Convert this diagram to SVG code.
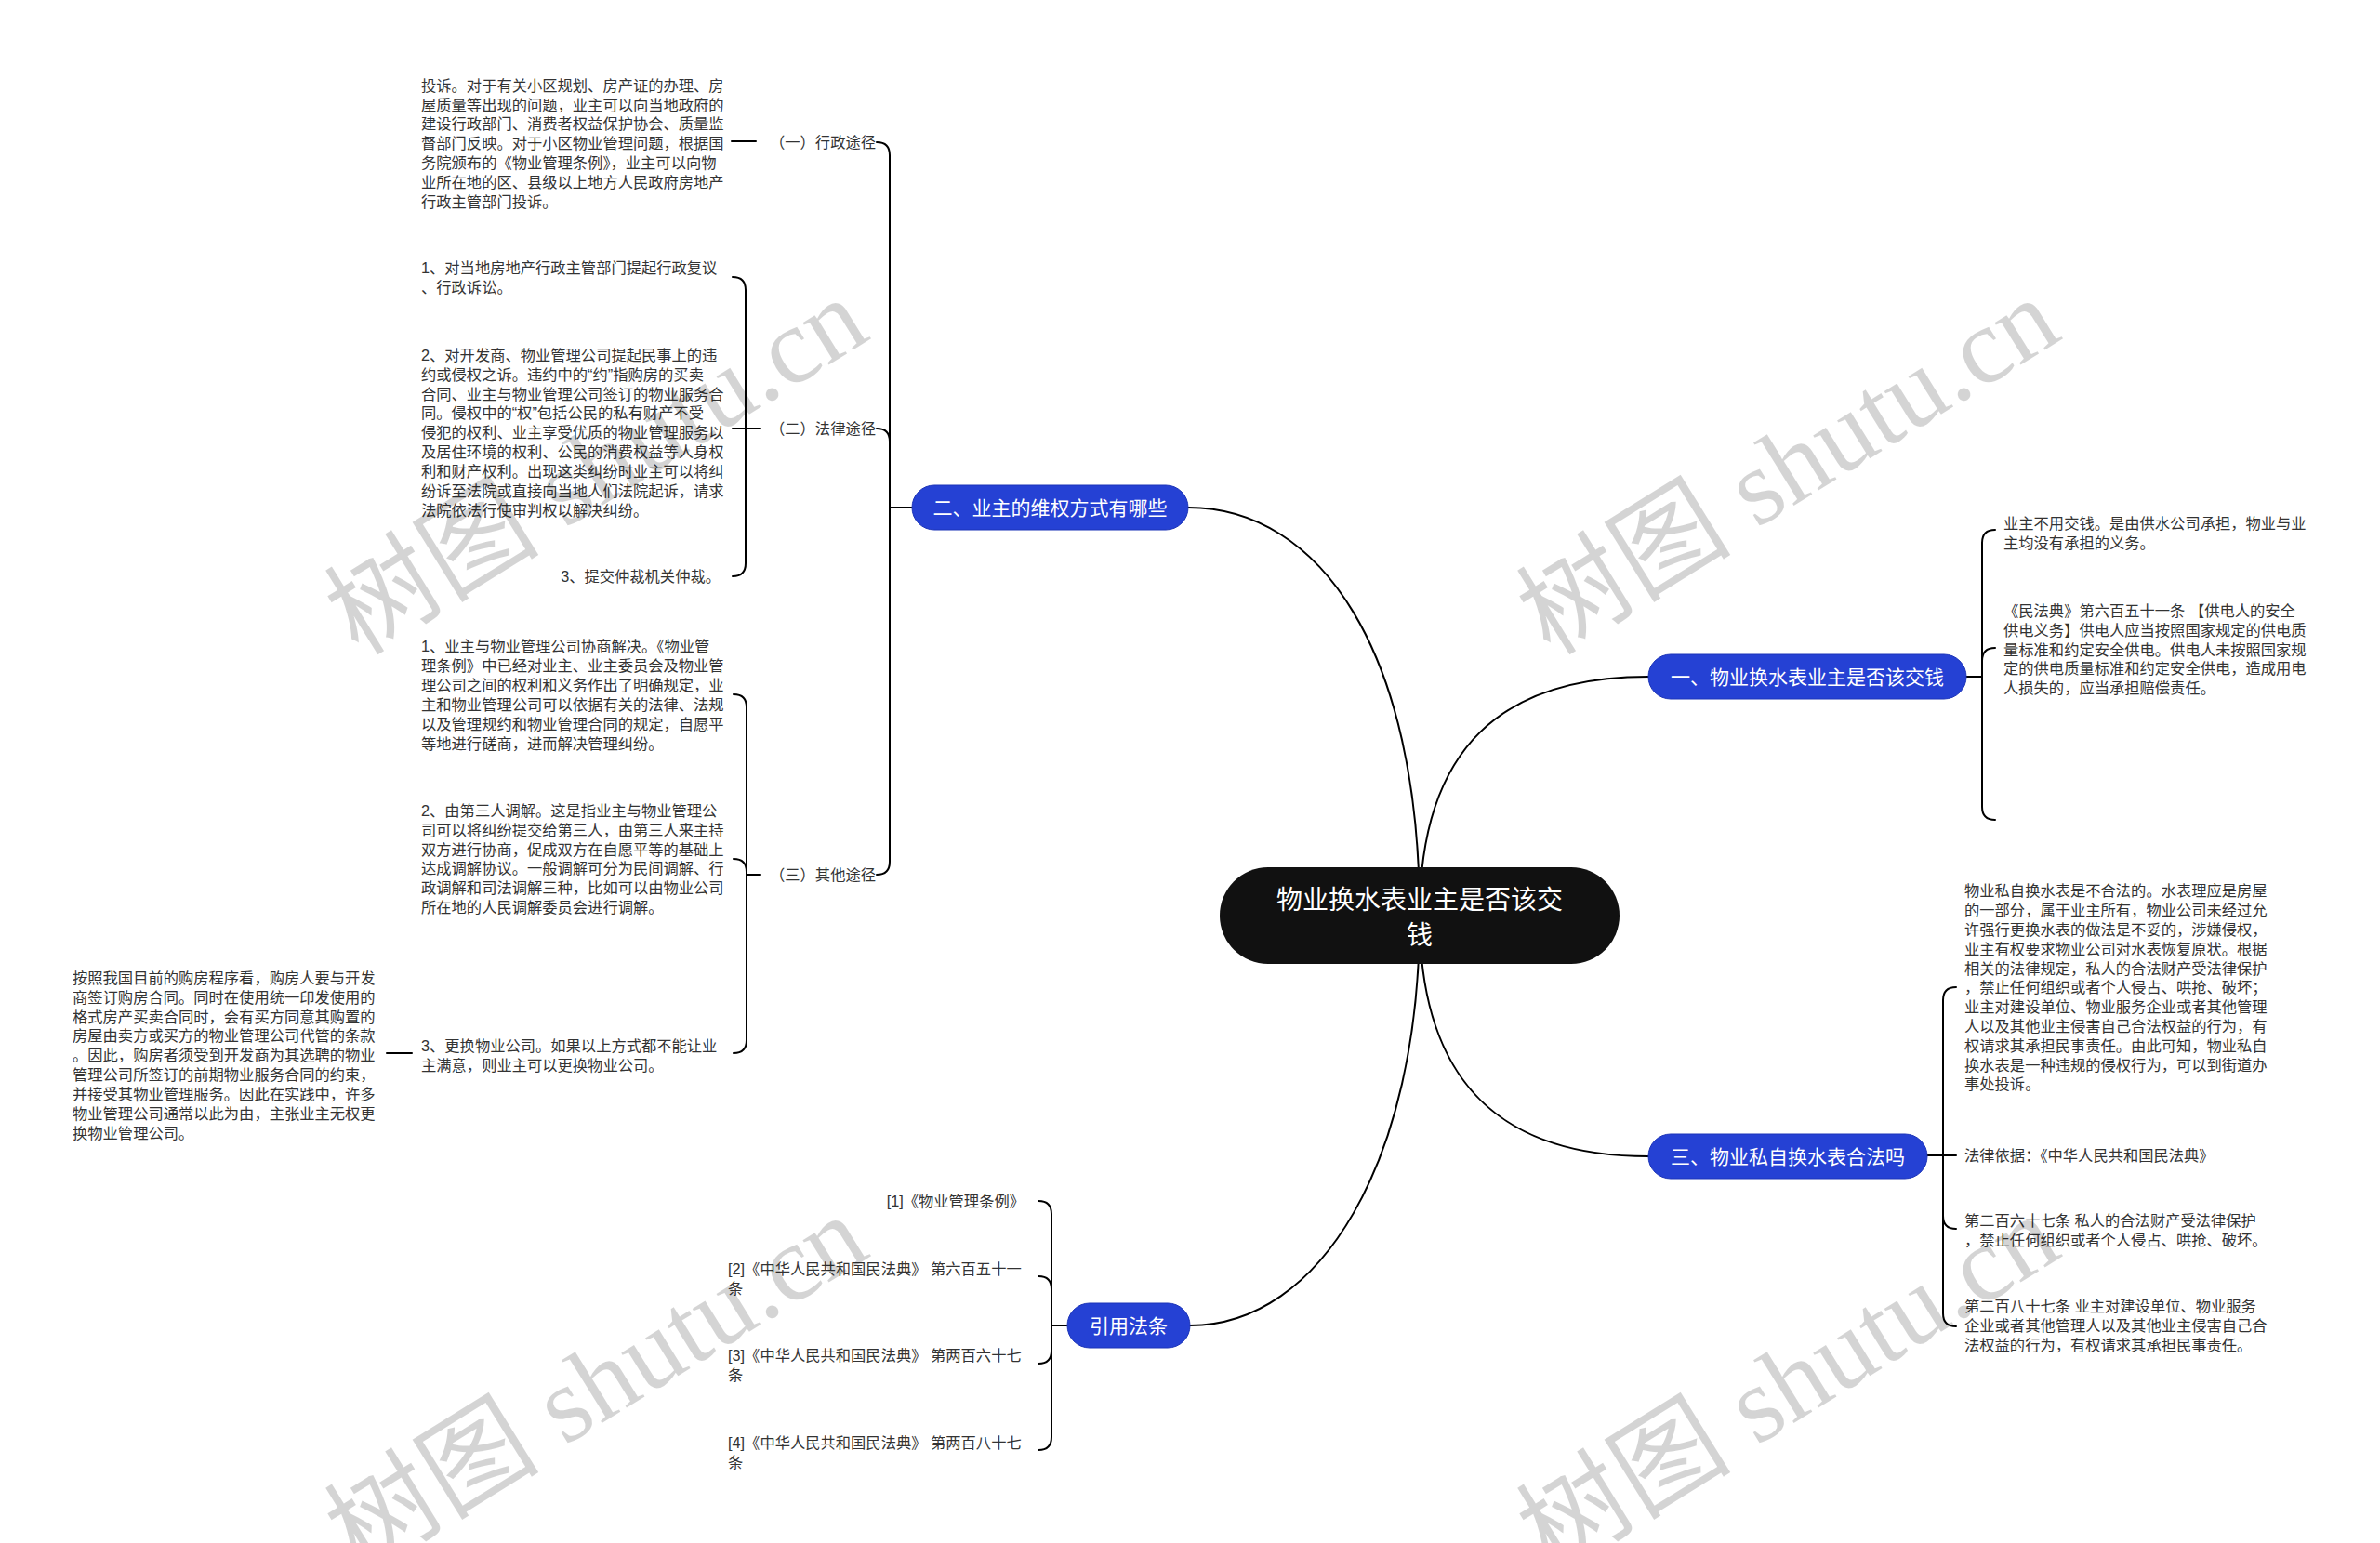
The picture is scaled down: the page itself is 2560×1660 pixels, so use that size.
<svg xmlns="http://www.w3.org/2000/svg" width="2560" height="1660" viewBox="0 0 2560 1660">
<style>
.bg{fill:#ffffff}
.ln{fill:none;stroke:#000;stroke-width:2;stroke-linecap:round}
.t{font-family:"Liberation Sans","Noto Sans CJK SC",sans-serif;font-size:16.3px;fill:#333}
.e{text-anchor:end}
.bn{fill:#2541d4;stroke:#1c34b8;stroke-width:1}
.bt{font-family:"Liberation Sans","Noto Sans CJK SC",sans-serif;font-size:21px;fill:#fff;text-anchor:middle}
.ct{font-family:"Liberation Sans","Noto Sans CJK SC",sans-serif;font-size:28px;fill:#fff;text-anchor:middle}
.wm{font-family:"Liberation Serif","Noto Sans CJK SC",serif;font-size:116px;fill:#000;fill-opacity:0.17;text-anchor:middle}
</style>
<rect class="bg" x="0" y="0" width="2560" height="1660"/>
<g id="connectors">
<path class="ln" d="M1527,985 C1527,700 1420,546 1278,546"/>
<path class="ln" d="M1527,985 C1527,800 1620,728 1773,728"/>
<path class="ln" d="M1527,985 C1527,1170 1620,1244 1773,1244"/>
<path class="ln" d="M1527,985 C1527,1250 1420,1426 1280,1426"/>
<path class="ln" d="M981,546 L957,546"/>
<path class="ln" d="M957,546 L957,167 Q957,153 943,153"/>
<path class="ln" d="M957,546 L957,475 Q957,461 943,461"/>
<path class="ln" d="M957,546 L957,927 Q957,941 943,941"/>
<path class="ln" d="M787,152 L813,152"/>
<path class="ln" d="M802,461 L802,312 Q802,298 788,298"/>
<path class="ln" d="M818,461 L788,461"/>
<path class="ln" d="M802,461 L802,606 Q802,620 788,620"/>
<path class="ln" d="M818,941 L803,941"/>
<path class="ln" d="M803,941 L803,761 Q803,747 789,747"/>
<path class="ln" d="M803,941 L803,938 Q803,924 789,924"/>
<path class="ln" d="M803,941 L803,1119 Q803,1133 789,1133"/>
<path class="ln" d="M443,1133 L416,1133"/>
<path class="ln" d="M1148,1426 L1131,1426"/>
<path class="ln" d="M1131,1426 L1131,1306 Q1131,1292 1117,1292"/>
<path class="ln" d="M1131,1426 L1131,1387 Q1131,1373 1117,1373"/>
<path class="ln" d="M1131,1426 L1131,1453 Q1131,1467 1117,1467"/>
<path class="ln" d="M1131,1426 L1131,1546 Q1131,1560 1117,1560"/>
<path class="ln" d="M2115,728 L2132,728"/>
<path class="ln" d="M2132,728 L2132,584 Q2132,570 2146,570"/>
<path class="ln" d="M2132,728 L2132,711 Q2132,697 2146,697"/>
<path class="ln" d="M2132,728 L2132,868 Q2132,882 2146,882"/>
<path class="ln" d="M2073,1243 L2104,1243"/>
<path class="ln" d="M2090,1243 L2090,1076 Q2090,1062 2104,1062"/>
<path class="ln" d="M2090,1243 L2090,1308 Q2090,1322 2104,1322"/>
<path class="ln" d="M2090,1243 L2090,1413 Q2090,1427 2104,1427"/>
</g>
<g id="center">
<rect x="1312" y="933" width="430" height="104" rx="52" fill="#111"/>
<text class="ct" x="1527" y="978">物业换水表业主是否该交</text>
<text class="ct" x="1527" y="1016">钱</text>
</g>
<g id="node-er">
<rect class="bn" x="981" y="522" width="297" height="48" rx="24"/>
<text class="bt" x="1129.5" y="553.5">二、业主的维权方式有哪些</text>
</g>
<g id="node-yi">
<rect class="bn" x="1773" y="704" width="342" height="48" rx="24"/>
<text class="bt" x="1944" y="735.5">一、物业换水表业主是否该交钱</text>
</g>
<g id="node-san">
<rect class="bn" x="1773" y="1220" width="300" height="48" rx="24"/>
<text class="bt" x="1923" y="1251.5">三、物业私自换水表合法吗</text>
</g>
<g id="node-yinyong">
<rect class="bn" x="1148" y="1402" width="132" height="48" rx="24"/>
<text class="bt" x="1214" y="1433.5">引用法条</text>
</g>
<g id="label-xingzheng">
<text class="t e" x="942" y="159">（一）行政途径</text>
</g>
<g id="text-xingzheng">
<text class="t" x="453" y="97.7">投诉。对于有关小区规划、房产证的办理、房<tspan x="453" dy="20.8">屋质量等出现的问题，业主可以向当地政府的</tspan><tspan x="453" dy="20.8">建设行政部门、消费者权益保护协会、质量监</tspan><tspan x="453" dy="20.8">督部门反映。对于小区物业管理问题，根据国</tspan><tspan x="453" dy="20.8">务院颁布的《物业管理条例》，业主可以向物</tspan><tspan x="453" dy="20.8">业所在地的区、县级以上地方人民政府房地产</tspan><tspan x="453" dy="20.8">行政主管部门投诉。</tspan></text>
</g>
<g id="label-falv">
<text class="t e" x="942" y="467">（二）法律途径</text>
</g>
<g id="text-falv-1">
<text class="t" x="453" y="294">1、对当地房地产行政主管部门提起行政复议<tspan x="453" dy="20.9">、行政诉讼。</tspan></text>
</g>
<g id="text-falv-2">
<text class="t" x="453" y="387.7">2、对开发商、物业管理公司提起民事上的违<tspan x="453" dy="20.9">约或侵权之诉。违约中的“约”指购房的买卖</tspan><tspan x="453" dy="20.9">合同、业主与物业管理公司签订的物业服务合</tspan><tspan x="453" dy="20.9">同。侵权中的“权”包括公民的私有财产不受</tspan><tspan x="453" dy="20.9">侵犯的权利、业主享受优质的物业管理服务以</tspan><tspan x="453" dy="20.9">及居住环境的权利、公民的消费权益等人身权</tspan><tspan x="453" dy="20.9">利和财产权利。出现这类纠纷时业主可以将纠</tspan><tspan x="453" dy="20.9">纷诉至法院或直接向当地人们法院起诉，请求</tspan><tspan x="453" dy="20.9">法院依法行使审判权以解决纠纷。</tspan></text>
</g>
<g id="text-falv-3">
<text class="t e" x="775" y="626">3、提交仲裁机关仲裁。</text>
</g>
<g id="label-qita">
<text class="t e" x="942" y="947">（三）其他途径</text>
</g>
<g id="text-qita-1">
<text class="t" x="453" y="701">1、业主与物业管理公司协商解决。《物业管<tspan x="453" dy="20.9">理条例》中已经对业主、业主委员会及物业管</tspan><tspan x="453" dy="20.9">理公司之间的权利和义务作出了明确规定，业</tspan><tspan x="453" dy="20.9">主和物业管理公司可以依据有关的法律、法规</tspan><tspan x="453" dy="20.9">以及管理规约和物业管理合同的规定，自愿平</tspan><tspan x="453" dy="20.9">等地进行磋商，进而解决管理纠纷。</tspan></text>
</g>
<g id="text-qita-2">
<text class="t" x="453" y="877.7">2、由第三人调解。这是指业主与物业管理公<tspan x="453" dy="20.9">司可以将纠纷提交给第三人，由第三人来主持</tspan><tspan x="453" dy="20.9">双方进行协商，促成双方在自愿平等的基础上</tspan><tspan x="453" dy="20.9">达成调解协议。一般调解可分为民间调解、行</tspan><tspan x="453" dy="20.9">政调解和司法调解三种，比如可以由物业公司</tspan><tspan x="453" dy="20.9">所在地的人民调解委员会进行调解。</tspan></text>
</g>
<g id="text-qita-3">
<text class="t" x="453" y="1131">3、更换物业公司。如果以上方式都不能让业<tspan x="453" dy="20.9">主满意，则业主可以更换物业公司。</tspan></text>
</g>
<g id="text-goufang">
<text class="t" x="78" y="1057.7">按照我国目前的购房程序看，购房人要与开发<tspan x="78" dy="20.9">商签订购房合同。同时在使用统一印发使用的</tspan><tspan x="78" dy="20.9">格式房产买卖合同时，会有买方同意其购置的</tspan><tspan x="78" dy="20.9">房屋由卖方或买方的物业管理公司代管的条款</tspan><tspan x="78" dy="20.9">。因此，购房者须受到开发商为其选聘的物业</tspan><tspan x="78" dy="20.9">管理公司所签订的前期物业服务合同的约束，</tspan><tspan x="78" dy="20.9">并接受其物业管理服务。因此在实践中，许多</tspan><tspan x="78" dy="20.9">物业管理公司通常以此为由，主张业主无权更</tspan><tspan x="78" dy="20.9">换物业管理公司。</tspan></text>
</g>
<g id="ref-1">
<text class="t e" x="1102" y="1298">[1]《物业管理条例》</text>
</g>
<g id="ref-2">
<text class="t" x="783" y="1371">[2]《中华人民共和国民法典》 第六百五十一<tspan x="783" dy="20.9">条</tspan></text>
</g>
<g id="ref-3">
<text class="t" x="783" y="1464">[3]《中华人民共和国民法典》 第两百六十七<tspan x="783" dy="20.9">条</tspan></text>
</g>
<g id="ref-4">
<text class="t" x="783" y="1558">[4]《中华人民共和国民法典》 第两百八十七<tspan x="783" dy="20.9">条</tspan></text>
</g>
<g id="text-yi-1">
<text class="t" x="2155" y="569">业主不用交钱。是由供水公司承担，物业与业<tspan x="2155" dy="20.9">主均没有承担的义务。</tspan></text>
</g>
<g id="text-yi-2">
<text class="t" x="2155" y="662.7">《民法典》第六百五十一条 【供电人的安全<tspan x="2155" dy="20.9">供电义务】供电人应当按照国家规定的供电质</tspan><tspan x="2155" dy="20.9">量标准和约定安全供电。供电人未按照国家规</tspan><tspan x="2155" dy="20.9">定的供电质量标准和约定安全供电，造成用电</tspan><tspan x="2155" dy="20.9">人损失的，应当承担赔偿责任。</tspan></text>
</g>
<g id="text-san-1">
<text class="t" x="2113" y="964.3">物业私自换水表是不合法的。水表理应是房屋<tspan x="2113" dy="20.8">的一部分，属于业主所有，物业公司未经过允</tspan><tspan x="2113" dy="20.8">许强行更换水表的做法是不妥的，涉嫌侵权，</tspan><tspan x="2113" dy="20.8">业主有权要求物业公司对水表恢复原状。根据</tspan><tspan x="2113" dy="20.8">相关的法律规定，私人的合法财产受法律保护</tspan><tspan x="2113" dy="20.8">，禁止任何组织或者个人侵占、哄抢、破坏；</tspan><tspan x="2113" dy="20.8">业主对建设单位、物业服务企业或者其他管理</tspan><tspan x="2113" dy="20.8">人以及其他业主侵害自己合法权益的行为，有</tspan><tspan x="2113" dy="20.8">权请求其承担民事责任。由此可知，物业私自</tspan><tspan x="2113" dy="20.8">换水表是一种违规的侵权行为，可以到街道办</tspan><tspan x="2113" dy="20.8">事处投诉。</tspan></text>
</g>
<g id="text-san-2">
<text class="t" x="2113" y="1249">法律依据：《中华人民共和国民法典》</text>
</g>
<g id="text-san-3">
<text class="t" x="2113" y="1319">第二百六十七条 私人的合法财产受法律保护<tspan x="2113" dy="20.9">，禁止任何组织或者个人侵占、哄抢、破坏。</tspan></text>
</g>
<g id="text-san-4">
<text class="t" x="2113" y="1411">第二百八十七条 业主对建设单位、物业服务<tspan x="2113" dy="20.9">企业或者其他管理人以及其他业主侵害自己合</tspan><tspan x="2113" dy="20.9">法权益的行为，有权请求其承担民事责任。</tspan></text>
</g>
<g id="watermarks">
<text class="wm" transform="translate(662,535) rotate(-31.8)">树图 shutu.cn</text>
<text class="wm" transform="translate(1944,535) rotate(-31.8)">树图 shutu.cn</text>
<text class="wm" transform="translate(662,1522) rotate(-31.8)">树图 shutu.cn</text>
<text class="wm" transform="translate(1944,1522) rotate(-31.8)">树图 shutu.cn</text>
</g>
</svg>
